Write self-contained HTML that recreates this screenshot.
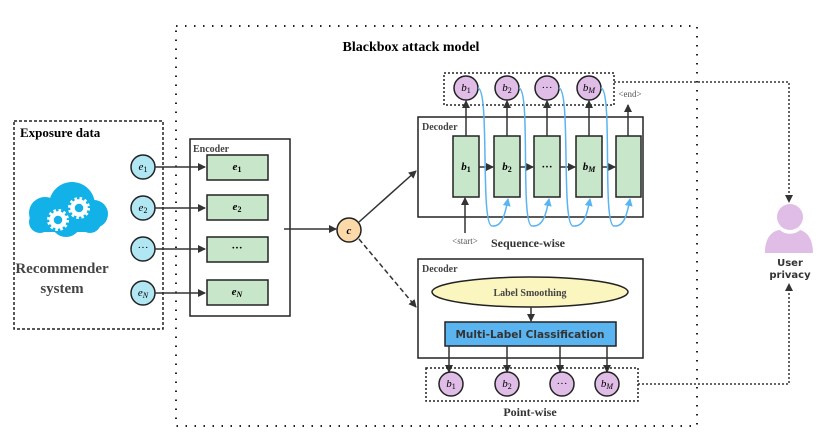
<!DOCTYPE html>
<html><head><meta charset="utf-8"><style>body{margin:0;background:#fff}svg{display:block}</style></head><body>
<svg width="830" height="434" viewBox="0 0 830 434" xmlns="http://www.w3.org/2000/svg" font-family="Liberation Serif, serif">
<defs>
<marker id="a" markerWidth="8" markerHeight="8" refX="7" refY="4" orient="auto" markerUnits="userSpaceOnUse"><path d="M0,0 L8,4 L0,8 z" fill="#333"/></marker>
<marker id="ab" markerWidth="8" markerHeight="8" refX="7" refY="4" orient="auto" markerUnits="userSpaceOnUse"><path d="M0,0 L8,4 L0,8 z" fill="#5ab4f0"/></marker>
</defs>
<rect x="176" y="26" width="521" height="400" fill="none" stroke="#222" stroke-width="2" stroke-dasharray="1.5 7.5"/>
<text x="411" y="51" font-size="14" font-weight="bold" text-anchor="middle">Blackbox attack model</text>
<rect x="14" y="121" width="149" height="208" fill="none" stroke="#222" stroke-width="1.5" stroke-dasharray="3 2"/>
<text x="20" y="137" font-size="13" font-weight="bold">Exposure data</text>
<g fill="#12b2e8">
<circle cx="45" cy="213" r="16"/><circle cx="72" cy="205" r="23"/><circle cx="94" cy="214" r="14"/><circle cx="40" cy="222" r="11"/><circle cx="66" cy="222" r="15"/><circle cx="90" cy="222" r="11"/><rect x="40" y="215" width="55" height="17"/>
</g>
<g fill="none" stroke="#fff">
<circle cx="58" cy="220" r="6.5" stroke-width="4.5"/><circle cx="58" cy="220" r="9.5" stroke-width="3" stroke-dasharray="2.5 2.5"/>
<circle cx="79" cy="208" r="6.5" stroke-width="4.5"/><circle cx="79" cy="208" r="9.5" stroke-width="3" stroke-dasharray="2.5 2.5"/>
</g>
<text x="62" y="273" font-size="15" font-weight="bold" fill="#444" text-anchor="middle">Recommender</text>
<text x="62" y="293" font-size="15" font-weight="bold" fill="#444" text-anchor="middle">system</text>
<g stroke="#222" stroke-width="1.5" fill="#b1e6f3">
<circle cx="143" cy="167" r="12"/><circle cx="143" cy="208" r="12"/><circle cx="143" cy="249" r="12"/><circle cx="143" cy="293" r="12"/>
</g>
<g font-size="11" font-style="italic" text-anchor="middle">
<text x="143" y="170">e<tspan font-size="8" font-style="normal" dy="2">1</tspan></text>
<text x="143" y="211">e<tspan font-size="8" font-style="normal" dy="2">2</tspan></text>
<text x="143" y="251" font-style="normal">···</text>
<text x="143" y="296">e<tspan font-size="8" dy="2">N</tspan></text>
</g>
<rect x="190" y="139" width="100" height="177" fill="#fff" stroke="#222" stroke-width="1.5"/>
<text x="193" y="152" font-size="10" font-weight="bold" fill="#444">Encoder</text>
<g stroke="#222" stroke-width="1.5" fill="#c8e6c9">
<rect x="207" y="155" width="61" height="25"/><rect x="207" y="195" width="61" height="25"/><rect x="207" y="237" width="61" height="25"/><rect x="207" y="280" width="61" height="25"/>
</g>
<g font-size="11" font-weight="bold" font-style="italic" text-anchor="middle">
<text x="237" y="170">e<tspan font-size="8" font-style="normal" dy="2">1</tspan></text>
<text x="237" y="210">e<tspan font-size="8" font-style="normal" dy="2">2</tspan></text>
<text x="237" y="251" font-style="normal">···</text>
<text x="237" y="295">e<tspan font-size="8" dy="2">N</tspan></text>
</g>
<g stroke="#333" stroke-width="1.5" marker-end="url(#a)">
<line x1="155" y1="167" x2="205" y2="167"/><line x1="155" y1="208" x2="205" y2="208"/><line x1="155" y1="249" x2="205" y2="249"/><line x1="155" y1="293" x2="205" y2="293"/>
</g>
<line x1="284" y1="229" x2="336" y2="229" stroke="#333" stroke-width="1.5" marker-end="url(#a)"/>
<circle cx="349" cy="230" r="12" fill="#fcd9a8" stroke="#222" stroke-width="1.5"/>
<text x="349" y="234" font-size="11" font-weight="bold" font-style="italic" text-anchor="middle">c</text>
<line x1="359" y1="222" x2="416" y2="171" stroke="#333" stroke-width="1.5" marker-end="url(#a)"/>
<line x1="359" y1="239" x2="416" y2="307" stroke="#333" stroke-width="1.5" stroke-dasharray="5 3" marker-end="url(#a)"/>
<rect x="418" y="117" width="225" height="100" fill="#fff" stroke="#222" stroke-width="1.5"/>
<text x="422" y="130" font-size="10" font-weight="bold" fill="#444">Decoder</text>
<rect x="444" y="73" width="170" height="32" fill="none" stroke="#222" stroke-width="1.5" stroke-dasharray="2 2"/>
<g stroke="#222" stroke-width="1.5" fill="#c8e6c9">
<rect x="453" y="136" width="26" height="61"/><rect x="494" y="136" width="26" height="61"/><rect x="534" y="136" width="26" height="61"/><rect x="576" y="136" width="26" height="61"/><rect x="616" y="136" width="25" height="61"/>
</g>
<g font-size="11" font-weight="bold" font-style="italic" text-anchor="middle">
<text x="466" y="170">b<tspan font-size="8" font-style="normal" dy="2">1</tspan></text>
<text x="507" y="170">b<tspan font-size="8" font-style="normal" dy="2">2</tspan></text>
<text x="547" y="170" font-style="normal">···</text>
<text x="589" y="170">b<tspan font-size="8" dy="2">M</tspan></text>
</g>
<g stroke="#333" stroke-width="1.5" marker-end="url(#a)">
<line x1="479" y1="167" x2="493" y2="167"/><line x1="520" y1="167" x2="533" y2="167"/><line x1="560" y1="167" x2="575" y2="167"/><line x1="602" y1="167" x2="615" y2="167"/>
<line x1="466" y1="136" x2="466" y2="101"/><line x1="507" y1="136" x2="507" y2="101"/><line x1="547" y1="136" x2="547" y2="101"/><line x1="589" y1="136" x2="589" y2="101"/><line x1="628" y1="136" x2="628" y2="105"/>
<line x1="465" y1="233" x2="465" y2="198"/>
</g>
<g stroke="#222" stroke-width="1.5" fill="#e0bde6">
<circle cx="466" cy="88" r="12"/><circle cx="507" cy="88" r="12"/><circle cx="547" cy="88" r="12"/><circle cx="589" cy="88" r="12"/>
</g>
<g font-size="11" font-style="italic" text-anchor="middle">
<text x="466" y="91">b<tspan font-size="8" font-style="normal" dy="2">1</tspan></text>
<text x="507" y="91">b<tspan font-size="8" font-style="normal" dy="2">2</tspan></text>
<text x="547" y="91" font-style="normal">···</text>
<text x="589" y="91">b<tspan font-size="8" dy="2">M</tspan></text>
</g>
<g fill="none" stroke="#5ab4f0" stroke-width="1.5" marker-end="url(#ab)">
<path d="M478,88 C490,90 480,225 492,226 C502,227 505,215 508,199"/>
<path d="M519,88 C531,90 520,225 532,226 C543,227 546,215 549,199"/>
<path d="M559,88 C571,90 561,225 573,226 C584,227 587,215 590,199"/>
<path d="M601,88 C613,90 602,225 614,226 C624,227 627,215 630,199"/>
</g>
<text x="630" y="97" font-size="9" fill="#555" text-anchor="middle">&lt;end&gt;</text>
<text x="465" y="244" font-size="9" fill="#555" text-anchor="middle">&lt;start&gt;</text>
<text x="528" y="247" font-size="12" font-weight="bold" fill="#333" text-anchor="middle">Sequence-wise</text>
<rect x="418" y="259" width="225" height="99" fill="#fff" stroke="#222" stroke-width="1.5"/>
<text x="422" y="272" font-size="10" font-weight="bold" fill="#444">Decoder</text>
<ellipse cx="530" cy="292" rx="98" ry="15" fill="#fbf5c0" stroke="#222" stroke-width="1.5"/>
<text x="530" y="296" font-size="10" font-weight="bold" fill="#444" text-anchor="middle">Label Smoothing</text>
<line x1="531" y1="307" x2="531" y2="321" stroke="#333" stroke-width="1.5" marker-end="url(#a)"/>
<rect x="445" y="322" width="171" height="24" fill="#5ab4f0" stroke="#222" stroke-width="1.5"/>
<text x="530" y="338" font-size="10.5" font-weight="bold" fill="#333" text-anchor="middle" font-family="DejaVu Sans, sans-serif">Multi-Label Classification</text>
<g stroke="#333" stroke-width="1.5" marker-end="url(#a)">
<line x1="449" y1="346" x2="449" y2="372"/><line x1="507" y1="346" x2="507" y2="372"/><line x1="560" y1="346" x2="560" y2="372"/><line x1="607" y1="346" x2="607" y2="372"/>
</g>
<rect x="426" y="368" width="212" height="33" fill="none" stroke="#222" stroke-width="1.5" stroke-dasharray="2 2"/>
<g stroke="#222" stroke-width="1.5" fill="#e0bde6">
<circle cx="451" cy="384" r="12"/><circle cx="507" cy="384" r="12"/><circle cx="562" cy="384" r="12"/><circle cx="607" cy="384" r="12"/>
</g>
<g font-size="11" font-style="italic" text-anchor="middle">
<text x="451" y="387">b<tspan font-size="8" font-style="normal" dy="2">1</tspan></text>
<text x="507" y="387">b<tspan font-size="8" font-style="normal" dy="2">2</tspan></text>
<text x="562" y="387" font-style="normal">···</text>
<text x="607" y="387">b<tspan font-size="8" dy="2">M</tspan></text>
</g>
<text x="530" y="416" font-size="12" font-weight="bold" fill="#333" text-anchor="middle">Point-wise</text>
<path d="M614,82 H789 V202" fill="none" stroke="#333" stroke-width="1.5" stroke-dasharray="2 2" marker-end="url(#a)"/>
<path d="M638,384 H789 V284" fill="none" stroke="#333" stroke-width="1.5" stroke-dasharray="2 2" marker-end="url(#a)"/>
<circle cx="790" cy="217" r="13" fill="#e0bde6"/>
<path d="M765,253 C765,230 780,230 780,230 C785,235 795,235 800,230 C800,230 813,232 813,253 Z" fill="#e0bde6"/>
<text x="790" y="266" font-size="10" font-weight="bold" fill="#333" text-anchor="middle" font-family="DejaVu Sans, sans-serif">User</text>
<text x="790" y="278" font-size="10" font-weight="bold" fill="#333" text-anchor="middle" font-family="DejaVu Sans, sans-serif">privacy</text>
</svg>
</body></html>
